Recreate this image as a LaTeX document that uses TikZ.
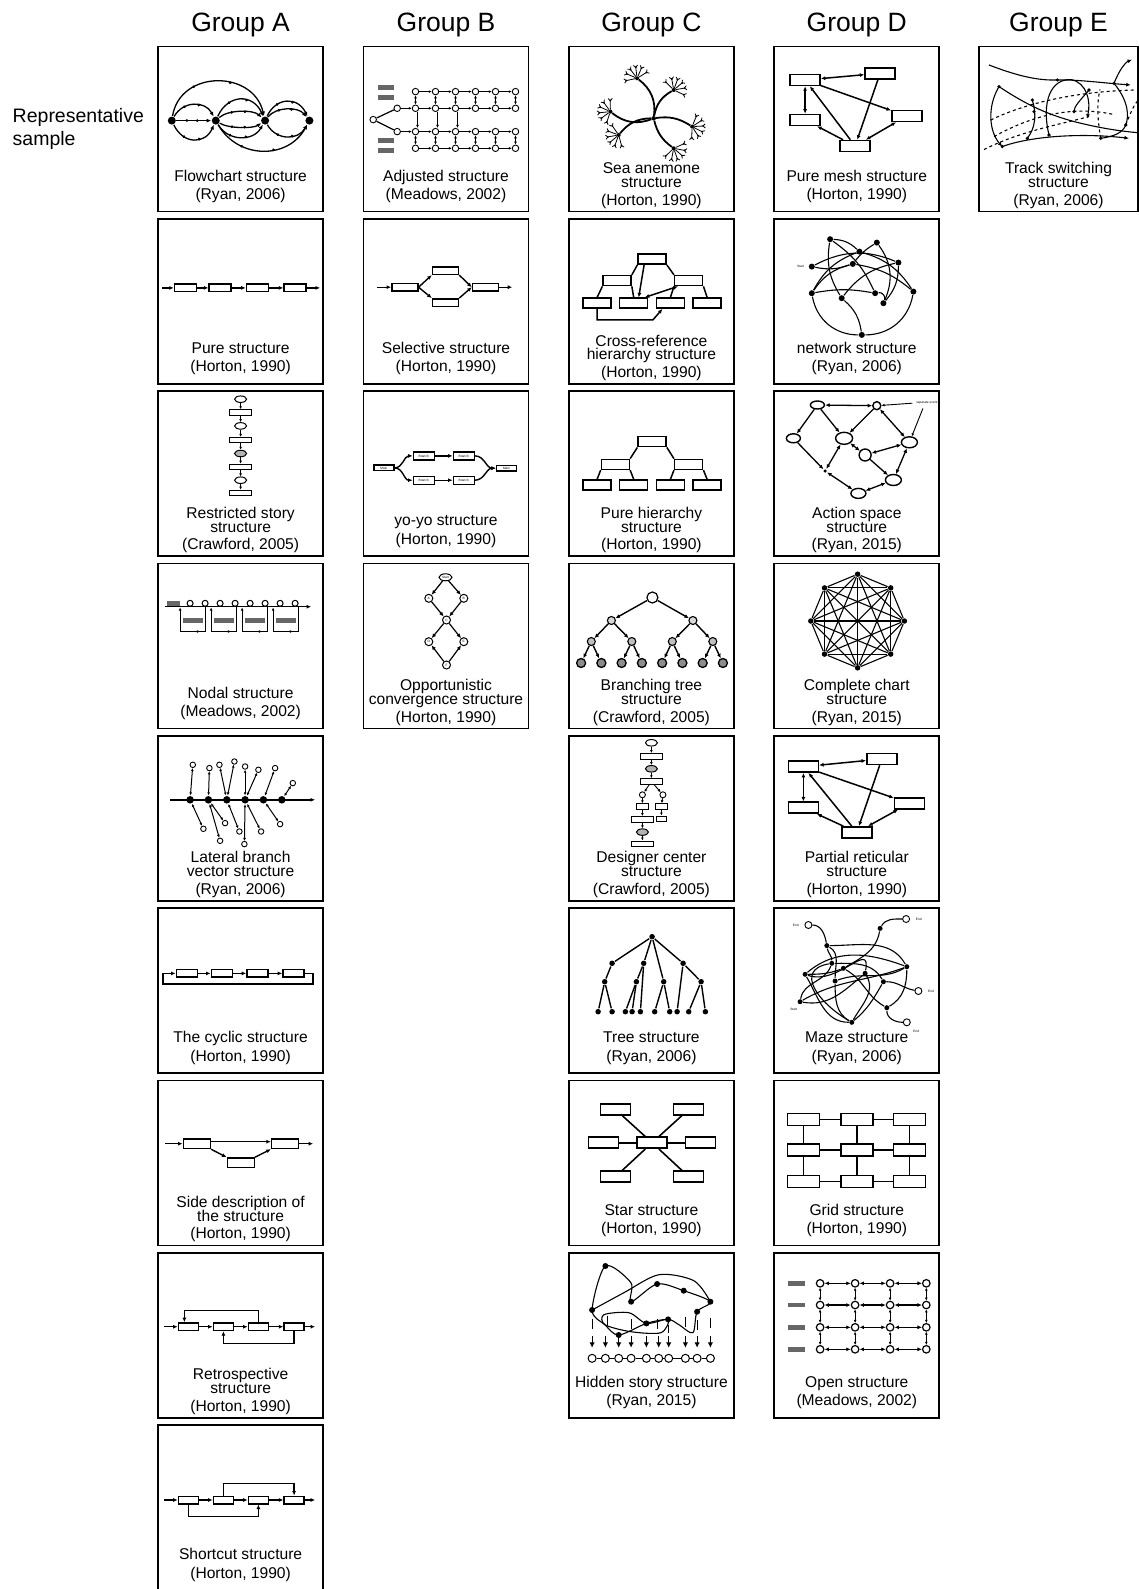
\documentclass[tikz,border=0pt]{standalone}
\usepackage{fontspec}
\setmainfont{Liberation Sans}
\usepackage{tikz}
\usetikzlibrary{arrows.meta, positioning, shapes.geometric, calc, decorations.markings}

\newcommand{\capfont}{\fontsize{15.6}{15.6}\selectfont}
\newcommand{\minifont}{\fontsize{3.2}{3.6}\selectfont}

% caption: title on one line
\newcommand{\capone}[3]{%
  \node[cite] (#1c) at ([yshift=12pt]#1.south) {#3};
  \node[ttl] (#1t) at ([yshift=18.3pt]#1c.base) {#2};}
% caption: title on two lines
\newcommand{\captwo}[4]{%
  \node[cite] (#1c) at ([yshift=6.5pt]#1.south) {#4};
  \node[ttl] (#1t) at ([yshift=17.7pt]#1c.base) {#3};
  \node[ttl] (#1s) at ([yshift=13.7pt]#1t.base) {#2};}

\begin{document}
\begin{tikzpicture}[x=1pt, y=-1pt,
    panel/.style={draw, line width=1.8pt, minimum width=165pt, minimum height=165pt, inner sep=0pt, outer sep=0pt},
    grp/.style={font=\fontsize{26.5}{26.5}\selectfont, inner sep=0pt},
    rep/.style={font=\fontsize{19.5}{22.3}\selectfont, align=left, inner sep=0pt},
    ttl/.style={font=\capfont, anchor=base, inner sep=0pt},
    cite/.style={font=\capfont, anchor=base, inner sep=0pt},
    dgm/.style={line width=1.4pt},
    arr/.style={-{Latex[length=4.5pt,width=4pt]}},
    darr/.style={{Latex[length=4.5pt,width=4pt]}-{Latex[length=4.5pt,width=4pt]}},
    sarr/.style={-{Latex[length=3pt,width=2.8pt]}, line width=0.9pt},
    sdarr/.style={{Latex[length=3pt,width=2.8pt]}-{Latex[length=3pt,width=2.8pt]}, line width=0.9pt},
    barr/.style={-{Latex[length=5.5pt,width=5.5pt]}, line width=1.2pt},
    sbox/.style={draw, fill=white, line width=1.5pt, minimum width=21pt, minimum height=7.5pt, inner sep=0pt,
      path picture={\fill (path picture bounding box.north west) rectangle ([yshift=-1.6pt]path picture bounding box.north east);}},
    mbox/.style={sbox, minimum width=28pt, minimum height=10pt},
    tbox/.style={draw, fill=white, line width=1pt, minimum width=22pt, minimum height=5.5pt, inner sep=0pt, font=\minifont},
    ell/.style={ellipse, draw, fill=white, line width=1pt, minimum width=12pt, minimum height=6.5pt, inner sep=0pt, font=\minifont},
    gbox/.style={fill=black!60, minimum width=16pt, minimum height=4.5pt, inner sep=0pt},
    oc/.style={circle, draw, fill=white, line width=0.9pt, minimum size=5pt, inner sep=0pt},
    bd/.style={circle, fill=black, minimum size=5.5pt, inner sep=0pt},
    tgt/.style={oc, minimum size=6.5pt, path picture={\fill (path picture bounding box.center) circle (1.2pt);}},
    fdots/.style={postaction={decorate}, decoration={markings,
      mark=at position 0.3 with {\fill (0,0) circle (1.5pt);},
      mark=at position 0.6 with {\fill (0,0) circle (1.5pt);}}}]

  \useasboundingbox (0,0) rectangle (1139,1589);

  % Panels
  \foreach \nm/\x/\nr in {a/240.6/9, b/446/4, c/651.4/8, d/856.8/8}
    \foreach \ri in {1,...,\nr}
      \node[panel] (\nm\ri) at (\x,{129.1+172.3*(\ri-1)}) {};
  \node[panel, minimum width=159pt] (e1) at (1058.5,129.1) {};

  % Headers
  \node[grp, above=9.6pt of a1] (grpa) {Group A};
  \node[grp, above=9.6pt of b1] (grpb) {Group B};
  \node[grp, above=9.6pt of c1] (grpc) {Group C};
  \node[grp, above=9.6pt of d1] (grpd) {Group D};
  \node[grp, above=9.6pt of e1] (grpe) {Group E};
  \node[rep, left=14pt of a1] (repl) {Representative\\sample};

  % ---------- Group A ----------
  % Flowchart
  \begin{scope}[shift={(a1.north west)}, line width=1.3pt]
    \node[bd, minimum size=8pt] (a1-1) at (13.7,74) {};
    \node[bd, minimum size=8pt] (a1-2) at (57.7,74) {};
    \node[bd, minimum size=8pt] (a1-3) at (107,74) {};
    \node[bd, minimum size=8pt] (a1-4) at (151.3,74) {};
    \draw[arr, fdots] (a1-1) .. controls (22,23) and (95,23) .. (a1-3);
    \draw[arr, fdots] (a1-1) -- (a1-2);
    \draw[arr, fdots] (a1-1) .. controls (25,54) and (47,54) .. (a1-2);
    \draw[arr, fdots] (a1-1) .. controls (25,98) and (47,98) .. (a1-2);
    \draw[arr, fdots] (a1-2) .. controls (70,47) and (95,47) .. (a1-3);
    \draw[arr, fdots] (a1-2) .. controls (70,63) and (95,63) .. (a1-3);
    \draw[arr, fdots] (a1-2) .. controls (70,82) and (95,82) .. (a1-3);
    \draw[arr, fdots] (a1-2) .. controls (70,95) and (95,95) .. (a1-3);
    \draw[arr, fdots] (a1-2) .. controls (80,113) and (130,113) .. (a1-4);
    \draw[arr, fdots] (a1-3) .. controls (118,50) and (140,50) .. (a1-4);
    \draw[arr, fdots] (a1-3) .. controls (118,60) and (140,60) .. (a1-4);
    \draw[arr, fdots] (a1-3) .. controls (118,94) and (140,94) .. (a1-4);
  \end{scope}
  \capone{a1}{Flowchart structure}{(Ryan, 2006)}

  % Pure
  \begin{scope}[shift={(a2.north west)}, dgm]
    \node[sbox, minimum width=22pt] (a2-1) at (27.4,69) {};
    \node[sbox, minimum width=22pt] (a2-2) at (62,69) {};
    \node[sbox, minimum width=22pt] (a2-3) at (99.3,69) {};
    \node[sbox, minimum width=22pt] (a2-4) at (137,69) {};
    \coordinate (a2-in) at (4,69);
    \coordinate (a2-out) at (162,69);
    \draw[arr] (a2-in) -- (a2-1);
    \draw[arr] (a2-1) -- (a2-2);
    \draw[arr] (a2-2) -- (a2-3);
    \draw[arr] (a2-3) -- (a2-4);
    \draw[arr] (a2-4) -- (a2-out);
  \end{scope}
  \capone{a2}{Pure structure}{(Horton, 1990)}

  % Restricted story
  \begin{scope}[shift={(a3.north west)}]
    \node[ell] (a3-1) at (82.5,8) {};
    \node[tbox] (a3-2) at (82.5,21.3) {};
    \node[ell] (a3-3) at (82.5,34.7) {};
    \node[tbox] (a3-4) at (82.5,49) {};
    \node[ell, fill=black!30] (a3-5) at (82.5,62.3) {};
    \node[tbox] (a3-6) at (82.5,75.7) {};
    \node[ell] (a3-7) at (82.5,89) {};
    \node[tbox] (a3-8) at (82.5,101.7) {};
    \foreach \i/\j in {1/2,2/3,3/4,4/5,5/6,6/7,7/8}
      \draw[sarr] (a3-\i) -- (a3-\j);
  \end{scope}
  \captwo{a3}{Restricted story}{structure}{(Crawford, 2005)}

  % Nodal
  \begin{scope}[shift={(a4.north west)}, line width=1.2pt]
    \node[gbox, minimum width=13pt] (a4-l) at (15,39.8) {};
    \coordinate (a4-s) at (7,43.2);
    \coordinate (a4-e) at (153,43.2);
    \draw[arr] (a4-s) -- (a4-e);
    \foreach \i in {1,...,8}
      \node[oc, minimum size=6pt, line width=1pt] (a4-\i) at ({17+15*\i},39.8) {};
    \foreach \k in {0,1,2,3} {
      \draw[sarr, line width=1pt] ({47+31*\k},43.2) -- ({47+31*\k},68) -- ({22+31*\k},68) -- ({22+31*\k},44);
      \node[gbox, minimum width=20pt] (a4-g\k) at ({35+31*\k},57) {};
      \draw[sarr, line width=1pt] ({43+31*\k},68) -- ({37+31*\k},68);
    }
  \end{scope}
  \capone{a4}{Nodal structure}{(Meadows, 2002)}

  % Lateral branch vector
  \begin{scope}[shift={(a5.north west)}, dgm]
    \coordinate (a5-s) at (12,64);
    \coordinate (a5-e) at (157,64);
    \draw[arr] (a5-s) -- (a5-e);
    \foreach \i/\x in {1/32,2/50.3,3/68.7,4/87,5/105.3,6/123.7}
      \node[bd, minimum size=7.5pt] (a5-\i) at (\x,64) {};
    \foreach \nm/\x/\y/\pa in {u1/34.7/29/1, u2/51.3/32.3/2, u3/61.3/29/3, u4/76.3/25.7/3,
        u5/87/30.7/4, u6/100.3/34/4, u7/117/32.3/5, u8/134.7/47.3/6,
        w1/45.3/93/1, w2/62/105/2, w3/67/87.3/2, w4/81.3/95.7/3,
        w5/86.3/108.3/4, w6/103/95.7/4, w7/122/88.3/5} {
      \node[oc, minimum size=5.5pt] (a5-\nm) at (\x,\y) {};
      \draw[sdarr, line width=1pt] (a5-\pa) -- (a5-\nm);
    }
  \end{scope}
  \captwo{a5}{Lateral branch}{vector structure}{(Ryan, 2006)}

  % Cyclic
  \begin{scope}[shift={(a6.north west)}, dgm]
    \node[sbox] (a6-1) at (28.7,65.3) {};
    \node[sbox] (a6-2) at (63.7,65.3) {};
    \node[sbox] (a6-3) at (99.3,65.3) {};
    \node[sbox] (a6-4) at (135.3,65.3) {};
    \draw[arr] (a6-1) -- (a6-2);
    \draw[arr] (a6-2) -- (a6-3);
    \draw[arr] (a6-3) -- (a6-4);
    \draw[arr] (a6-4.east) -| (155,76) -| (5,65.3) -- (a6-1.west);
  \end{scope}
  \capone{a6}{The cyclic structure}{(Horton, 1990)}

  % Side description
  \begin{scope}[shift={(a7.north west)}, dgm]
    \node[mbox, minimum width=27pt, minimum height=9.5pt] (a7-1) at (38.7,63.3) {};
    \node[mbox, minimum width=27pt, minimum height=9.5pt] (a7-2) at (82.7,82.3) {};
    \node[mbox, minimum width=27pt, minimum height=9.5pt] (a7-3) at (127,63.3) {};
    \coordinate (a7-in) at (7,63.3);
    \coordinate (a7-out) at (155,63.3);
    \draw[arr] (a7-in) -- (a7-1);
    \draw[arr] ([yshift=2pt]a7-1.east) -- ([yshift=2pt]a7-3.west);
    \draw[arr] (a7-1.south east) -- (a7-2.north west);
    \draw[arr] (a7-2.north east) -- (a7-3.south west);
    \draw[arr] (a7-3) -- (a7-out);
  \end{scope}
  \captwo{a7}{Side description of}{the structure}{(Horton, 1990)}

  % Retrospective
  \begin{scope}[shift={(a8.north west)}, dgm]
    \node[sbox, minimum width=20pt] (a8-1) at (30.3,74) {};
    \node[sbox, minimum width=20pt] (a8-2) at (65.3,74) {};
    \node[sbox, minimum width=20pt] (a8-3) at (100.3,74) {};
    \node[sbox, minimum width=20pt] (a8-4) at (136,74) {};
    \coordinate (a8-in) at (6,74);
    \coordinate (a8-out) at (157,74);
    \draw[arr] (a8-in) -- (a8-1);
    \draw[arr] (a8-1) -- (a8-2);
    \draw[arr] (a8-2) -- (a8-3);
    \draw[arr] (a8-3) -- (a8-4);
    \draw[arr] (a8-4) -- (a8-out);
    \draw[arr] (a8-3.north) -- ++(0,-12) -| ([xshift=-4pt]a8-1.north);
    \draw[arr] (a8-4.south) -- ++(0,12) -| (a8-2.south);
  \end{scope}
  \captwo{a8}{Retrospective}{structure}{(Horton, 1990)}

  % Shortcut
  \begin{scope}[shift={(a9.north west)}, dgm]
    \node[sbox, minimum width=20pt] (a9-1) at (30.3,75) {};
    \node[sbox, minimum width=20pt] (a9-2) at (65.3,75) {};
    \node[sbox, minimum width=20pt] (a9-3) at (100.3,75) {};
    \node[sbox, minimum width=20pt] (a9-4) at (136,75) {};
    \coordinate (a9-in) at (6,75);
    \coordinate (a9-out) at (157,75);
    \draw[arr] (a9-in) -- (a9-1);
    \draw[arr] (a9-1) -- (a9-2);
    \draw[arr] (a9-2) -- (a9-3);
    \draw[arr] (a9-3) -- (a9-4);
    \draw[arr] (a9-4) -- (a9-out);
    \draw[arr] (a9-2.north) -- ++(0,-12) -| (a9-4.north);
    \draw[arr] (a9-1.south) -- ++(0,12) -| (a9-3.south);
  \end{scope}
  \capone{a9}{Shortcut structure}{(Horton, 1990)}

  % ---------- Group B ----------
  % Adjusted
  \begin{scope}[shift={(b1.north west)}, line width=1.2pt]
    \node[tgt] (b1-s) at (9.7,73) {};
    \node[tgt] (b1-u) at (33.7,61.7) {};
    \node[tgt] (b1-d) at (33.7,85) {};
    \draw (b1-s) -- (b1-u);
    \draw (b1-s) -- (b1-d);
    \node[gbox] (b1-g1) at (22,41) {};
    \node[gbox] (b1-g2) at (22,51) {};
    \node[gbox] (b1-g3) at (22,94) {};
    \node[gbox] (b1-g4) at (22,104) {};
    \foreach \ri/\y in {1/45,2/61.7,3/85,4/101.7}
      \foreach \ci in {1,...,6}
        \node[tgt] (b1-\ri-\ci) at ({32+20*\ci},\y) {};
    \foreach \ri in {1,...,4}
      \foreach \ci [count=\nx from 2] in {1,...,5}
        \draw[sarr, line width=1.2pt] (b1-\ri-\ci) -- (b1-\ri-\nx);
    \foreach \ci in {1,...,6} {
      \draw[sdarr, line width=1.1pt] (b1-1-\ci) -- (b1-2-\ci);
      \draw[sdarr, line width=1.1pt] (b1-3-\ci) -- (b1-4-\ci);
    }
    \foreach \ci in {1,2,3}
      \draw[sarr, line width=1.1pt] ([xshift=2pt]b1-2-\ci.south) -- ([xshift=2pt]b1-3-\ci.north);
    \draw[sarr, line width=1.2pt] (b1-u) -- (b1-2-1);
    \draw[sarr, line width=1.2pt] (b1-d) -- (b1-3-1);
  \end{scope}
  \capone{b1}{Adjusted structure}{(Meadows, 2002)}

  % Selective
  \begin{scope}[shift={(b2.north west)}, dgm]
    \node[sbox, minimum width=26pt] (b2-1) at (41.3,68.3) {};
    \node[sbox, minimum width=26pt] (b2-2) at (82,51.7) {};
    \node[sbox, minimum width=26pt] (b2-3) at (82,83.7) {};
    \node[sbox, minimum width=26pt] (b2-4) at (122,68.3) {};
    \coordinate (b2-in) at (13.7,68.3);
    \coordinate (b2-out) at (148.7,68.3);
    \draw[arr] (b2-in) -- (b2-1);
    \draw[arr] (b2-1.east) -- (b2-2.south west);
    \draw[arr] (b2-1.east) -- (b2-3.north west);
    \draw[arr] (b2-2.south east) -- (b2-4.west);
    \draw[arr] (b2-3.north east) -- (b2-4.west);
    \draw[arr] (b2-4) -- (b2-out);
  \end{scope}
  \capone{b2}{Selective structure}{(Horton, 1990)}

  % yo-yo
  \begin{scope}[shift={(b3.north west)}, dgm]
    \node[tbox, line width=1.4pt, minimum width=20pt] (b3-m) at (20.3,76.7) {Main};
    \node[tbox, line width=1.4pt, minimum width=21pt, minimum height=8pt] (b3-1) at (60.3,64.7) {Branch};
    \node[tbox, line width=1.4pt, minimum width=21pt, minimum height=8pt] (b3-2) at (100.3,64.7) {Branch};
    \node[tbox, line width=1.4pt, minimum width=21pt, minimum height=8pt] (b3-3) at (60.3,89) {Branch};
    \node[tbox, line width=1.4pt, minimum width=21pt, minimum height=8pt] (b3-4) at (100.3,89) {Branch};
    \node[tbox, line width=1.4pt, minimum width=20pt] (b3-e) at (143,77) {Main};
    \draw[arr] (b3-m.east) to[out=0,in=180] (b3-1.west);
    \draw[arr] (b3-m.east) to[out=0,in=180] (b3-3.west);
    \draw[arr] (b3-1) -- (b3-2);
    \draw[arr] (b3-3) -- (b3-4);
    \draw[arr] (b3-2.east) to[out=0,in=180] (b3-e.west);
    \draw[arr] (b3-4.east) to[out=0,in=180] (b3-e.west);
  \end{scope}
  \capone{b3}{yo-yo structure}{(Horton, 1990)}

  % Opportunistic convergence
  \begin{scope}[shift={(b4.north west)}, line width=1.2pt]
    \node[ell, minimum width=13pt, minimum height=7pt] (b4-s) at (82,13.8) {Start};
    \node[oc, minimum size=8pt, line width=1pt, font=\minifont] (b4-a) at (65.3,34.8) {A};
    \node[oc, minimum size=8pt, line width=1pt, font=\minifont] (b4-b) at (100.3,34.8) {B};
    \node[oc, minimum size=8pt, line width=1pt, font=\minifont] (b4-c) at (83,56.5) {C};
    \node[oc, minimum size=8pt, line width=1pt, font=\minifont] (b4-d) at (65.3,78.2) {D};
    \node[oc, minimum size=8pt, line width=1pt, font=\minifont] (b4-e) at (100.3,78.2) {E};
    \node[oc, minimum size=8pt, line width=1pt, font=\minifont] (b4-f) at (83,101.5) {F};
    \foreach \pa/\cq in {s/a, s/b, a/c, b/c, c/d, c/e, f/d, f/e}
      \draw[arr] (b4-\pa) -- (b4-\cq);
  \end{scope}
  \captwo{b4}{Opportunistic}{convergence structure}{(Horton, 1990)}

  % ---------- Group C ----------
  % Sea anemone
  \begin{scope}[shift={(c1.north west)}]
    \node[bd, minimum size=4.5pt] (c1-0) at (84.8,71.7) {};
    \foreach \nm/\x/\y/\dd/\bn in {1/68.2/31.7/-112/-30, 2/104.8/43.4/-55/25, 3/41.5/65/-171/30,
        4/49.8/88.4/155/-25, 5/123.2/80/12/20, 6/104.8/101.7/56/-20} {
      \node[bd, minimum size=4pt] (c1-\nm) at (\x,\y) {};
      \draw[line width=1.8pt] (c1-0) to[bend left=\bn] (c1-\nm);
      \foreach \ta in {-80,-45,-15,15,45,80} {
        \draw[line width=0.8pt] (c1-\nm) -- ++({\dd+(\ta)}:11) coordinate (tip)
          -- ++({\dd+(\ta)+45}:3) (tip) -- ++({\dd+(\ta)-45}:3);
        \fill (tip) circle (1pt);
      }
    }
  \end{scope}
  \captwo{c1}{Sea anemone}{structure}{(Horton, 1990)}

  % Cross-reference hierarchy
  \begin{scope}[shift={(c2.north west)}, line width=1.5pt]
    \node[mbox] (c2-t) at (83.2,40.3) {};
    \node[mbox] (c2-l) at (48.2,61.7) {};
    \node[mbox] (c2-r) at (119.8,61.7) {};
    \foreach \i/\x in {1/28.2,2/64.8,3/101.5,4/138.2}
      \node[mbox] (c2-\i) at (\x,84.3) {};
    \draw (c2-t.south west) -- (c2-l.north east);
    \draw (c2-t.south east) -- (c2-r.north west);
    \draw (c2-l.south west) -- (c2-1.north);
    \draw (c2-l.south east) -- (c2-2.north);
    \draw (c2-r.south west) -- (c2-3.north);
    \draw (c2-r.south east) -- (c2-4.north);
    \draw[arr] ([xshift=-8pt]c2-t.south) -- ([xshift=5pt]c2-2.north);
    \draw[darr] ([xshift=11pt]c2-2.north) -- ([xshift=4pt]c2-r.south west);
    \draw[arr] (c2-1.south) |- (84,101) -- ([xshift=-8pt]c2-3.south);
  \end{scope}
  \captwo{c2}{Cross-reference}{hierarchy structure}{(Horton, 1990)}

  % Pure hierarchy
  \begin{scope}[shift={(c3.north west)}, line width=1.5pt]
    \node[mbox] (c3-t) at (83.2,50.5) {};
    \node[mbox] (c3-l) at (46.5,73.2) {};
    \node[mbox] (c3-r) at (119.8,73.2) {};
    \foreach \i/\x in {1/28.2,2/64.8,3/101.5,4/138.2}
      \node[mbox] (c3-\i) at (\x,93.8) {};
    \draw (c3-t.south west) -- (c3-l.north east);
    \draw (c3-t.south east) -- (c3-r.north west);
    \draw (c3-l.south west) -- (c3-1.north);
    \draw (c3-l.south east) -- (c3-2.north);
    \draw (c3-r.south west) -- (c3-3.north);
    \draw (c3-r.south east) -- (c3-4.north);
  \end{scope}
  \captwo{c3}{Pure hierarchy}{structure}{(Horton, 1990)}

  % Branching tree
  \begin{scope}[shift={(c4.north west)}, dgm]
    \node[oc, minimum size=11pt, line width=1.2pt] (c4-0) at (83.5,34) {};
    \node[oc, minimum size=8pt, line width=1.1pt, fill=black!15] (c4-1) at (42.5,57) {};
    \node[oc, minimum size=8pt, line width=1.1pt, fill=black!15] (c4-2) at (124,57) {};
    \foreach \i/\x in {3/22.4,4/62.9,5/103.4,6/143.9}
      \node[oc, minimum size=8pt, line width=1.1pt, fill=black!25] (c4-\i) at (\x,78) {};
    \foreach \i in {7,...,14}
      \node[oc, minimum size=9pt, fill=black!45, line width=1.3pt] (c4-\i) at ({12.2+20.26*(\i-7)},99.5) {};
    \foreach \pa/\cq in {0/1,0/2,1/3,1/4,2/5,2/6,3/7,3/8,4/9,4/10,5/11,5/12,6/13,6/14}
      \draw[arr] (c4-\pa) -- (c4-\cq);
  \end{scope}
  \captwo{c4}{Branching tree}{structure}{(Crawford, 2005)}

  % Designer center
  \begin{scope}[shift={(c5.north west)}]
    \node[ell] (c5-1) at (82.5,7) {};
    \node[tbox] (c5-2) at (82.5,20.5) {};
    \node[ell, fill=black!30] (c5-3) at (82.5,33) {};
    \node[tbox] (c5-4) at (82.5,45.7) {};
    \node[oc, minimum size=6pt] (c5-5) at (73.5,59) {};
    \node[oc, minimum size=6pt] (c5-6) at (94,59) {};
    \node[tbox, minimum width=12pt] (c5-7) at (73.5,70.7) {};
    \node[tbox, minimum width=12pt] (c5-8) at (92.5,70.7) {};
    \node[tbox] (c5-9) at (73.5,83.5) {};
    \node[tbox, minimum width=10pt] (c5-10) at (92.5,83) {};
    \node[ell, fill=black!30] (c5-11) at (73.5,96.3) {};
    \node[tbox] (c5-12) at (73.5,108) {};
    \foreach \pa/\cq in {1/2,2/3,3/4,4/5,4/6,5/7,6/8,7/9,8/10,9/11,11/12}
      \draw[sarr] (c5-\pa) -- (c5-\cq);
  \end{scope}
  \captwo{c5}{Designer center}{structure}{(Crawford, 2005)}

  % Tree
  \begin{scope}[shift={(c6.north west)}, dgm]
    \node[bd] (c6-0) at (83.2,28.6) {};
    \node[bd] (c6-a) at (43.2,55.2) {};
    \node[bd] (c6-b) at (74.8,55.2) {};
    \node[bd] (c6-c) at (114.2,55.2) {};
    \node[bd] (c6-p) at (35.8,73.6) {};
    \node[bd] (c6-q) at (67.5,73.6) {};
    \node[bd] (c6-r) at (94.8,73.6) {};
    \node[bd] (c6-s) at (132.2,73.6) {};
    \foreach \i/\x in {1/29.2,2/43.2,3/56.5,4/63.2,5/71.5,6/85.8,7/100.8,8/108.2,9/119.8,10/136.5}
      \node[bd] (c6-\i) at (\x,103.6) {};
    \foreach \pa/\cq in {0/a,0/b,0/r,0/c,a/p,p/1,p/2,b/q,q/3,q/4,b/5,r/6,r/7,c/8,c/s,s/9,s/10}
      \draw (c6-\pa) -- (c6-\cq);
  \end{scope}
  \capone{c6}{Tree structure}{(Ryan, 2006)}

  % Star
  \begin{scope}[shift={(c7.north west)}, line width=1.6pt]
    \node[mbox, minimum width=30pt, minimum height=11pt] (c7-0) at (83.2,62.3) {};
    \node[mbox, minimum width=30pt, minimum height=11pt] (c7-1) at (46.5,29) {};
    \node[mbox, minimum width=30pt, minimum height=11pt] (c7-2) at (119.8,29) {};
    \node[mbox, minimum width=30pt, minimum height=11pt] (c7-3) at (34.8,62.3) {};
    \node[mbox, minimum width=30pt, minimum height=11pt] (c7-4) at (131.5,62.3) {};
    \node[mbox, minimum width=30pt, minimum height=11pt] (c7-5) at (46.5,96.3) {};
    \node[mbox, minimum width=30pt, minimum height=11pt] (c7-6) at (119.8,96.3) {};
    \foreach \i in {1,...,6}
      \draw (c7-0) -- (c7-\i);
  \end{scope}
  \capone{c7}{Star structure}{(Horton, 1990)}

  % Hidden story
  \begin{scope}[shift={(c8.north west)}, line width=1.1pt]
    \draw plot[smooth cycle] coordinates {(23.2,57.3) (36.5,13.3) (62,30) (62.2,49) (88.2,31.3)
      (114.8,38) (141.5,49) (128.2,59) (124,80) (110,72) (99.2,66.7) (77.5,70.7) (49.8,82.3) (36,72)};
    \draw plot[smooth] coordinates {(23.2,57.3) (55,40) (90,22) (125,28) (141.5,49)};
    \draw plot[smooth cycle] coordinates {(35,62) (60,60) (77.5,70.7) (99.2,66.7) (92,80) (62,79) (36,72)};
    \foreach \x/\y in {36.5/13.3, 88.2/31.3, 114.8/38, 141.5/49, 23.2/57.3, 62.2/49,
        128.2/59, 99.2/66.7, 77.5/70.7, 49.8/82.3}
      \fill (\x,\y) circle (3pt);
    \foreach \x/\ya/\yb in {23.2/66/76, 38.2/63/73, 62.2/66/76, 88.2/66/76,
        99.8/72/80, 116.5/64/74, 128.2/67/77, 141.5/65/75}
      \draw (\x,\ya) -- (\x,\yb);
    \foreach \i/\x in {1/23.2,2/36.5,3/49.8,4/62.2,5/77.5,6/89.8,7/99.8,8/116.5,9/128.2,10/141.5}
      \node[oc, minimum size=8pt, line width=1pt] (c8-\i) at (\x,105.6) {};
    \foreach \i [count=\nx from 2] in {1,...,9}
      \draw (c8-\i) -- (c8-\nx);
    \foreach \i in {1,...,10}
      \draw[barr] ([yshift=18pt]c8-\i.north) -- ([yshift=6pt]c8-\i.north);
  \end{scope}
  \capone{c8}{Hidden story structure}{(Ryan, 2015)}

  % ---------- Group D ----------
  % Pure mesh
  \begin{scope}[shift={(d1.north west)}, line width=1.5pt]
    \node[mbox, minimum width=30pt, minimum height=11pt] (d1-1) at (30.8,33.4) {};
    \node[mbox, minimum width=30pt, minimum height=11pt] (d1-2) at (105.8,26.7) {};
    \node[mbox, minimum width=30pt, minimum height=11pt] (d1-3) at (30.8,73.4) {};
    \node[mbox, minimum width=30pt, minimum height=11pt] (d1-4) at (132.5,69.4) {};
    \node[mbox, minimum width=30pt, minimum height=11pt] (d1-5) at (80.8,99.4) {};
    \draw[darr] (d1-1) -- (d1-2);
    \draw[darr] (d1-1) -- (d1-3);
    \draw[arr] (d1-1) -- (d1-4);
    \draw[arr] (d1-5) -- (d1-1);
    \draw[arr] (d1-2) -- (d1-5);
    \draw[arr] (d1-5) -- (d1-3);
    \draw[darr] (d1-5) -- (d1-4);
  \end{scope}
  \capone{d1}{Pure mesh structure}{(Horton, 1990)}

  % network
  \begin{scope}[shift={(d2.north west)}, line width=1.1pt]
    \foreach \i/\x/\y in {1/55.8/20.3, 2/102.5/23.7, 3/85.1/32.7, 4/37.5/47.7, 5/78.5/45, 6/124.1/43.7,
        7/37.5/74.3, 8/67.4/79.3, 9/100.8/74.3, 10/109.1/84.3, 11/139.1/72.7, 12/87.5/116}
      \node[bd, minimum size=6pt] (d2-\i) at (\x,\y) {};
    \node[font=\minifont, left=0.5pt of d2-4] (d2-st) {Start};
    \draw (d2-1) to[bend left=20] (d2-3);
    \draw (d2-1) to[bend left=15] (d2-9);
    \draw (d2-1) to[bend right=20] (d2-8);
    \draw (d2-4) to[bend left=25] (d2-6);
    \draw (d2-4) to[bend right=15] (d2-5);
    \draw (d2-5) to[bend right=20] (d2-7);
    \draw (d2-5) to[bend left=15] (d2-11);
    \draw (d2-2) to[bend left=30] (d2-10);
    \draw (d2-3) to[bend right=20] (d2-7);
    \draw (d2-6) to[bend right=20] (d2-8);
    \draw (d2-7) to[bend left=10] (d2-9);
    \draw (d2-8) to[bend left=20] (d2-12);
    \draw (d2-11) to[bend left=40] (d2-12);
    \draw (d2-7) to[bend right=40] (d2-12);
    \draw (d2-9) to[bend left=60] (d2-10);
    \draw (d2-6) to[bend left=20] (d2-10);
    \draw (d2-2) to[bend right=10] (d2-5);
    \draw (d2-3) to[bend left=20] (d2-11);
  \end{scope}
  \capone{d2}{network structure}{(Ryan, 2006)}

  % Action space
  \begin{scope}[shift={(d3.north west)}, line width=1.3pt]
    \node[ell, line width=1.4pt, minimum width=14pt, minimum height=8pt] (d3-1) at (43.1,13.8) {};
    \node[ell, line width=1.4pt, minimum width=14pt, minimum height=9pt] (d3-2) at (19.1,47.1) {};
    \node[ell, line width=1.4pt, minimum width=17pt, minimum height=12pt] (d3-3) at (69.8,47.1) {};
    \node[ell, line width=1.4pt, minimum width=8pt, minimum height=8pt] (d3-4) at (102.5,14.5) {};
    \node[ell, line width=1.4pt, minimum width=16pt, minimum height=11pt] (d3-5) at (135.1,51.1) {};
    \node[ell, line width=1.4pt, minimum width=12pt, minimum height=12pt] (d3-6) at (90.8,63.8) {};
    \node[ell, line width=1.4pt, minimum width=16pt, minimum height=11pt] (d3-7) at (119.1,88.8) {};
    \node[ell, line width=1.4pt, minimum width=15pt, minimum height=10pt] (d3-8) at (84.1,102.2) {};
    \node[bd, minimum size=3.5pt] (d3-k) at (50.8,79.8) {};
    \node[font=\minifont, anchor=west] (d3-t) at (138,12) {separate event};
    \draw[darr] (d3-1) -- (d3-4);
    \draw[arr] (d3-1) -- (d3-2);
    \draw[arr] (d3-1) -- (d3-3);
    \draw[arr] (d3-2) -- (d3-k);
    \draw[darr] (d3-3) -- (d3-k);
    \draw[arr] (d3-4) -- (d3-3);
    \draw[darr] (d3-4) -- (d3-5);
    \draw[darr] (d3-3) -- (d3-6);
    \draw[darr] (d3-6) -- (d3-5);
    \draw[arr] (d3-6) -- (d3-7);
    \draw[darr] (d3-5) -- (d3-7);
    \draw[darr] (d3-k) -- (d3-8);
    \draw[darr] (d3-8) -- (d3-7);
    \draw[sarr] (d3-t.west) -- (d3-4);
    \draw[sarr] ([xshift=-4pt]d3-t.south) -- (d3-5);
  \end{scope}
  \captwo{d3}{Action space}{structure}{(Ryan, 2015)}

  % Complete chart
  \begin{scope}[shift={(d4.north west)}, line width=1.1pt]
    \coordinate (d4-o) at (83.3,57.5);
    \foreach \k in {0,...,7}
      \node[bd, minimum size=5.5pt] (d4-\k) at ($(d4-o)+({45*\k}:46.8)$) {};
    \node[bd, minimum size=3pt] (d4-c) at (d4-o) {};
    \foreach \i in {0,...,7}
      \foreach \j in {0,...,7} {
        \ifnum\i<\j \draw (d4-\i) -- (d4-\j); \fi
      }
  \end{scope}
  \captwo{d4}{Complete chart}{structure}{(Ryan, 2015)}

  % Partial reticular
  \begin{scope}[shift={(d5.north west)}, line width=1.5pt]
    \node[mbox, minimum width=30pt, minimum height=11pt] (d5-1) at (29.1,30.9) {};
    \node[mbox, minimum width=30pt, minimum height=11pt] (d5-2) at (107.5,23.2) {};
    \node[mbox, minimum width=30pt, minimum height=11pt] (d5-3) at (29.1,71.9) {};
    \node[mbox, minimum width=30pt, minimum height=11pt] (d5-4) at (135.1,67.5) {};
    \node[mbox, minimum width=30pt, minimum height=11pt] (d5-5) at (82.5,96.5) {};
    \draw[darr] (d5-1) -- (d5-2);
    \draw[darr] (d5-1) -- (d5-3);
    \draw[arr] (d5-1) -- (d5-4);
    \draw[arr] (d5-5) -- (d5-1);
    \draw[arr] (d5-2) -- (d5-5);
    \draw[arr] (d5-5) -- (d5-3);
    \draw[darr] (d5-5) -- (d5-4);
  \end{scope}
  \captwo{d5}{Partial reticular}{structure}{(Horton, 1990)}

  % Maze
  \begin{scope}[shift={(d6.north west)}, line width=1.1pt]
    \node[tgt, minimum size=7pt] (d6-e1) at (34.1,16.9) {};
    \node[tgt, minimum size=7pt] (d6-e2) at (131.8,10.9) {};
    \node[tgt, minimum size=7pt] (d6-e3) at (144.1,82.9) {};
    \node[tgt, minimum size=7pt] (d6-e4) at (132.5,114.2) {};
    \node[font=\minifont, left=2pt of d6-e1] (d6-l1) {End};
    \node[font=\minifont, right=2pt of d6-e2] (d6-l2) {End};
    \node[font=\minifont, right=2pt of d6-e3] (d6-l3) {End};
    \node[font=\minifont, below right=1pt and 0pt of d6-e4] (d6-l4) {End};
    \node[bd, minimum size=5pt] (d6-s) at (25.8,93.6) {};
    \node[font=\minifont, below left=1pt and -3pt of d6-s] (d6-l0) {Start};
    \foreach \i/\x/\y in {1/52.5/37.5, 2/57.5/55.2, 3/30.8/66.2, 4/69.1/60.2, 5/60.8/72.9, 6/90.8/65.2,
        7/109.1/73.6, 8/132.5/58.6, 9/112.5/99.6, 10/77.5/114.2, 11/105.8/20.3}
      \node[bd, minimum size=5pt] (d6-m\i) at (\x,\y) {};
    \draw (d6-e1) to[out=0,in=100] (d6-m1) to[out=-80,in=90] (d6-m2);
    \draw (d6-e2) to[out=180,in=60] (d6-m11) to[out=-100,in=30] (d6-m4);
    \draw (d6-m7) to[out=0,in=170] (d6-e3);
    \draw (d6-m9) to[out=-90,in=180] (d6-e4);
    \draw (d6-s) to[out=30,in=200] (d6-m8);
    \draw (d6-s) to[out=-10,in=220] (d6-m6);
    \draw (d6-s) to[out=80,in=250] (d6-m2);
    \draw (d6-m3) to[out=-60,in=180] (d6-m10);
    \draw (d6-m3) to[out=40,in=160] (d6-m8);
    \draw (d6-m2) to[out=0,in=120] (d6-m7);
    \draw (d6-m2) to[out=190,in=150,looseness=1.5] (d6-m10);
    \draw (d6-m4) to[out=-30,in=150] (d6-m9);
    \draw (d6-m5) to[out=20,in=-150] (d6-m8);
    \draw (d6-m6) to[out=-60,in=60] (d6-m10);
    \draw (d6-m8) to[out=-90,in=30] (d6-m9);
    \draw (d6-m1) to[out=0,in=120] (d6-m8);
    \draw (d6-m4) to[out=200,in=0] (d6-m3);
    \draw (d6-m7) to[out=-120,in=40] (d6-m10);
    \draw (d6-m10) to[out=150,in=-90] (d6-m5) to[out=90,in=-30] (d6-m1);
    \draw (d6-m6) to[out=80,in=-20,looseness=1.4] (d6-m3);
  \end{scope}
  \capone{d6}{Maze structure}{(Ryan, 2006)}

  % Grid
  \begin{scope}[shift={(d7.north west)}, line width=1.4pt]
    \foreach \ri/\y in {1/38.9,2/69.6,3/101.3}
      \foreach \ci/\x in {1/29.1,2/82.5,3/135.1}
        \node[mbox, minimum width=32pt, minimum height=12pt] (d7-\ri-\ci) at (\x,\y) {};
    \foreach \ri in {1,2,3} {
      \draw (d7-\ri-1) -- (d7-\ri-2);
      \draw (d7-\ri-2) -- (d7-\ri-3);
    }
    \foreach \ci in {1,2,3} {
      \draw (d7-1-\ci) -- (d7-2-\ci);
      \draw (d7-2-\ci) -- (d7-3-\ci);
    }
  \end{scope}
  \capone{d7}{Grid structure}{(Horton, 1990)}

  % Open
  \begin{scope}[shift={(d8.north west)}, line width=1.3pt]
    \foreach \ri/\y in {1/30.6,2/52.3,3/74.6,4/96.6} {
      \node[gbox, minimum width=17pt] (d8-g\ri) at (22.5,\y) {};
      \foreach \ci/\x in {1/45.8,2/80.8,3/115.8,4/152}
        \node[tgt, minimum size=7.5pt, line width=1.2pt] (d8-\ri-\ci) at (\x,\y) {};
    }
    \foreach \ri in {1,...,4}
      \foreach \ci [count=\nx from 2] in {1,2,3}
        \draw[darr] (d8-\ri-\ci) -- (d8-\ri-\nx);
    \foreach \ci in {1,...,4}
      \foreach \ri [count=\nx from 2] in {1,2,3}
        \draw[sdarr, line width=1.2pt] (d8-\ri-\ci) -- (d8-\nx-\ci);
  \end{scope}
  \capone{d8}{Open structure}{(Meadows, 2002)}

  % ---------- Group E ----------
  % Track switching
  \begin{scope}[shift={(e1.north west)}, line width=1.1pt]
    \draw[arr] (10,18.4) .. controls (40,30) and (60,34) .. (78.3,33.4) .. controls (100,33) and (120,36) .. (151.7,38.4);
    \draw[arr] (135,36.7) .. controls (140,24) and (146,16) .. (153,13);
    \draw[arr] (20,40) .. controls (8,60) and (10,85) .. (23.3,100);
    \draw (20,40) .. controls (50,60) and (70,68) .. (95,75) .. controls (115,80) and (135,84) .. (158,86);
    \draw[arr] (23.3,100) .. controls (50,90) and (100,86) .. (150,91.7);
    \draw (53.3,53.4) .. controls (58,68) and (56,82) .. (48.3,91.7);
    \draw[arr] (70,88.4) .. controls (62,55) and (72,32) .. (92,33) .. controls (108,36) and (112,55) .. (108,72);
    \draw (110,43.4) .. controls (100,55) and (95,60) .. (95,65);
    \draw (135,36.7) .. controls (150,55) and (150,70) .. (146.7,78.4) .. controls (144,86) and (135,90) .. (121.7,91.7);
    \draw[dashed] (11.7,73.4) .. controls (50,55) and (100,45) .. (155,43.4);
    \draw[dashed] (15,90) .. controls (60,65) and (100,60) .. (135,68);
    \draw[dashed] (121.7,91.7) .. controls (118,70) and (118,55) .. (121,43);
    \draw[dashed] (146.7,78.4) .. controls (150,70) and (154,60) .. (158,55);
    \draw[dashed] (5,103) .. controls (40,85) and (80,78) .. (110,70);
    \foreach \x/\y in {20/40, 78.3/33.4, 135/36.7, 110/43.4, 53.3/53.4, 55/65, 70/88.4,
        48.3/91.7, 121.7/91.7, 146.7/78.4, 95/65, 23.3/100}
      \fill (\x,\y) circle (1.8pt);
  \end{scope}
  \captwo{e1}{Track switching}{structure}{(Ryan, 2006)}
\end{tikzpicture}
\end{document}
